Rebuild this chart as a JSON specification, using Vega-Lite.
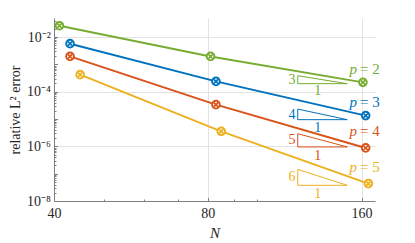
{
  "$schema": "https://vega.github.io/schema/vega-lite/v6.json",
  "width": 321,
  "height": 183,
  "autosize": {"type": "none"},
  "padding": {"left": 54, "top": 18, "right": 40, "bottom": 42},
  "background": "white",
  "config": {"view": {"stroke": null}, "font": "Liberation Serif"},
  "datasets": {
    "conv": [
      {"p": "2", "N": 41, "err": 0.0259},
      {"p": "2", "N": 81, "err": 0.00195},
      {"p": "2", "N": 161, "err": 0.000219},
      {"p": "3", "N": 43, "err": 0.0057},
      {"p": "3", "N": 83, "err": 0.000238},
      {"p": "3", "N": 163, "err": 0.0000133},
      {"p": "4", "N": 43, "err": 0.00195},
      {"p": "4", "N": 83, "err": 0.0000335},
      {"p": "4", "N": 163, "err": 8.75e-7},
      {"p": "5", "N": 45, "err": 0.000419},
      {"p": "5", "N": 85, "err": 0.00000353},
      {"p": "5", "N": 165, "err": 4.33e-8}
    ],
    "tri": [
      {"p": "2", "o": 1, "N": 120, "err": 0.000383},
      {"p": "2", "o": 2, "N": 120, "err": 0.000196},
      {"p": "2", "o": 3, "N": 150, "err": 0.000196},
      {"p": "2", "o": 4, "N": 120, "err": 0.000383},
      {"p": "3", "o": 1, "N": 120, "err": 0.0000231},
      {"p": "3", "o": 2, "N": 120, "err": 0.00000946},
      {"p": "3", "o": 3, "N": 150, "err": 0.00000946},
      {"p": "3", "o": 4, "N": 120, "err": 0.0000231},
      {"p": "4", "o": 1, "N": 120, "err": 0.0000029},
      {"p": "4", "o": 2, "N": 120, "err": 9.5e-7},
      {"p": "4", "o": 3, "N": 150, "err": 9.5e-7},
      {"p": "4", "o": 4, "N": 120, "err": 0.0000029},
      {"p": "5", "o": 1, "N": 120, "err": 1.43e-7},
      {"p": "5", "o": 2, "N": 120, "err": 3.75e-8},
      {"p": "5", "o": 3, "N": 150, "err": 3.75e-8},
      {"p": "5", "o": 4, "N": 120, "err": 1.43e-7}
    ],
    "nums": [
      {"p": "2", "N": 117, "err": 0.000259, "t": "3"},
      {"p": "2", "N": 131.3, "err": 0.000103, "t": "1"},
      {"p": "3", "N": 117, "err": 0.0000136, "t": "4"},
      {"p": "3", "N": 131.3, "err": 0.00000483, "t": "1"},
      {"p": "4", "N": 117, "err": 0.00000166, "t": "5"},
      {"p": "4", "N": 131.3, "err": 4.57e-7, "t": "1"},
      {"p": "5", "N": 117, "err": 7.8e-8, "t": "6"},
      {"p": "5", "N": 131.3, "err": 1.86e-8, "t": "1"}
    ],
    "plab": [
      {"p": "2", "N": 157.5, "err": 0.000676, "s": "p", "rest": "= 2"},
      {"p": "3", "N": 157.5, "err": 0.000042, "s": "p", "rest": "= 3"},
      {"p": "4", "N": 157.5, "err": 0.00000353, "s": "p", "rest": "= 4"},
      {"p": "5", "N": 157.5, "err": 1.71e-7, "s": "p", "rest": "= 5"}
    ]
  },
  "encoding": {
    "x": {
      "field": "N",
      "type": "quantitative",
      "scale": {"type": "log", "domain": [40, 170], "nice": false, "zero": false},
      "axis": {
        "title": "N",
        "titleFont": "Liberation Serif",
        "titleFontStyle": "italic",
        "titleFontWeight": "normal",
        "titleFontSize": 15,
        "titleColor": "#262626",
        "titlePadding": 3,
        "values": [40, 50, 60, 70, 80, 90, 100, 160],
        "labelExpr": "datum.value == 40 || datum.value == 80 || datum.value == 160 ? datum.value + '' : ''",
        "labelFont": "Liberation Serif",
        "labelFontSize": 14,
        "labelColor": "#262626",
        "labelOverlap": false,
        "labelFlush": false,
        "labelPadding": 9,
        "domainColor": "#808080",
        "tickColor": "#808080",
        "tickSize": {"condition": {"test": "datum.value == 40 || datum.value == 80 || datum.value == 160", "value": -3.5}, "value": -2},
        "grid": true,
        "gridColor": "#e3e3e3",
        "gridOpacity": {"condition": {"test": "datum.value == 40 || datum.value == 80 || datum.value == 160", "value": 1}, "value": 0}
      }
    },
    "y": {
      "field": "err",
      "type": "quantitative",
      "scale": {"type": "log", "domain": [1e-8, 0.0496], "nice": false, "zero": false},
      "axis": {
        "title": "relative L² error",
        "titleFont": "Liberation Serif",
        "titleFontWeight": "normal",
        "titleFontSize": 14,
        "titleColor": "#262626",
        "titlePadding": 4,
        "values": [1e-8, 2e-8, 3e-8, 4e-8, 5e-8, 6e-8, 7e-8, 8e-8, 9e-8,
                   1e-7, 2e-7, 3e-7, 4e-7, 5e-7, 6e-7, 7e-7, 8e-7, 9e-7,
                   1e-6, 2e-6, 3e-6, 4e-6, 5e-6, 6e-6, 7e-6, 8e-6, 9e-6,
                   1e-5, 2e-5, 3e-5, 4e-5, 5e-5, 6e-5, 7e-5, 8e-5, 9e-5,
                   1e-4, 2e-4, 3e-4, 4e-4, 5e-4, 6e-4, 7e-4, 8e-4, 9e-4,
                   1e-3, 2e-3, 3e-3, 4e-3, 5e-3, 6e-3, 7e-3, 8e-3, 9e-3,
                   1e-2, 2e-2, 3e-2, 4e-2],
        "labelExpr": "abs(log(datum.value)/LN10 - round(log(datum.value)/LN10)) < 0.001 && round(log(datum.value)/LN10) % 2 == 0 ? '10⁻' + ['⁰','¹','²','³','⁴','⁵','⁶','⁷','⁸','⁹'][-round(log(datum.value)/LN10)] : ''",
        "labelFont": "Liberation Serif",
        "labelFontSize": 14,
        "labelColor": "#262626",
        "labelOverlap": false,
        "labelFlush": false,
        "labelPadding": 7,
        "domainColor": "#808080",
        "tickColor": "#808080",
        "tickSize": {"condition": {"test": "abs(log(datum.value)/LN10 - round(log(datum.value)/LN10)) < 0.001", "value": -3.5}, "value": -2},
        "grid": true,
        "gridColor": "#e3e3e3",
        "gridOpacity": {"condition": {"test": "abs(log(datum.value)/LN10 - round(log(datum.value)/LN10)) < 0.001 && round(log(datum.value)/LN10) % 2 == 0", "value": 1}, "value": 0}
      }
    },
    "color": {
      "field": "p",
      "type": "nominal",
      "scale": {"domain": ["2", "3", "4", "5"], "range": ["#77AC30", "#0072BD", "#D95319", "#EDB120"]},
      "legend": null
    }
  },
  "layer": [
    {
      "data": {"name": "conv"},
      "mark": {"type": "line", "strokeWidth": 2}
    },
    {
      "data": {"name": "tri"},
      "mark": {"type": "line", "strokeWidth": 1},
      "encoding": {"order": {"field": "o", "type": "quantitative"}}
    },
    {
      "data": {"name": "conv"},
      "mark": {"type": "point", "shape": "circle", "filled": false, "fill": "white", "fillOpacity": 1, "opacity": 1, "size": 58, "strokeWidth": 2}
    },
    {
      "data": {"name": "conv"},
      "mark": {"type": "point", "shape": "M-0.6,-0.6L0.6,0.6M-0.6,0.6L0.6,-0.6", "filled": false, "opacity": 1, "size": 58, "strokeWidth": 1.6}
    },
    {
      "data": {"name": "nums"},
      "mark": {"type": "text", "font": "Liberation Serif", "fontSize": 14, "align": "center", "baseline": "middle"},
      "encoding": {"text": {"field": "t"}}
    },
    {
      "data": {"name": "plab"},
      "mark": {"type": "text", "font": "Liberation Serif", "fontSize": 15, "fontStyle": "italic", "align": "right", "baseline": "middle", "dx": -1},
      "encoding": {"text": {"field": "s"}}
    },
    {
      "data": {"name": "plab"},
      "mark": {"type": "text", "font": "Liberation Serif", "fontSize": 15, "align": "left", "baseline": "middle", "dx": 2},
      "encoding": {"text": {"field": "rest"}}
    }
  ]
}
